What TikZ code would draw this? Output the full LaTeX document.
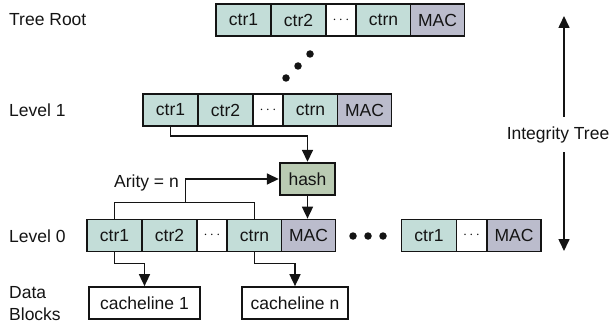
\documentclass[tikz,border=0pt]{standalone}
\usepackage{fontspec}
\setmainfont{Liberation Sans}
\usetikzlibrary{arrows.meta}
\definecolor{ctrfill}{HTML}{C3DDD8}
\definecolor{macfill}{HTML}{BBBCCC}
\definecolor{hashfill}{HTML}{BACBB3}
\definecolor{ink}{HTML}{141414}
\tikzset{
  cell/.style={draw=ink, line width=1.7pt, minimum height=32pt, inner sep=0pt,
    font=\fontsize{17.5}{20}\selectfont, text=ink},
  ctrcell/.style={cell, fill=ctrfill, minimum width=55pt},
  dotcell/.style={cell, fill=white, minimum width=30pt},
  maccell/.style={cell, fill=macfill, minimum width=54pt},
  hashbox/.style={cell, fill=hashfill, line width=2.4pt, minimum width=55pt},
  lineblock/.style={cell, fill=white},
  rowlabel/.style={anchor=west, inner sep=0pt, text=ink, font=\fontsize{17.5}{21}\selectfont, align=left},
  link/.style={draw=ink, line width=1.6pt},
  arr/.style={link, -{Triangle[length=12pt,width=11pt]}},
  bigdot/.style={fill=ink, circle, inner sep=0pt, minimum size=7.5pt}
}
\newcommand{\midots}{{\fontsize{14}{14}\selectfont$\cdots$}}
\begin{document}
\begin{tikzpicture}[x=1pt, y=-1pt]
\useasboundingbox (0,0) rectangle (610,326);

% row labels
\node[rowlabel] (lroot) at (9,20) {Tree Root};
\node[rowlabel] (lone)  at (9,110) {Level 1};
\node[rowlabel] (lzero) at (9,236) {Level 0};
\node[rowlabel, font=\fontsize{17.5}{21.5}\selectfont] (ldata) at (9,303.5) {Data\\Blocks};

% tree root
\node[ctrcell] (r1) at (243.5,20) {ctr1};
\node[ctrcell] (r2) at (298.5,20) {ctr2};
\node[dotcell] (rd) at (341,20) {\midots};
\node[ctrcell] (rn) at (383.5,20) {ctrn};
\node[maccell] (rm) at (437.5,20) {MAC};

% dots between levels
\node[bigdot] (v1) at (310,54) {};
\node[bigdot] (v2) at (298,66) {};
\node[bigdot] (v3) at (286,78) {};

% level 1
\node[ctrcell] (a1) at (170.5,110) {ctr1};
\node[ctrcell] (a2) at (225.5,110) {ctr2};
\node[dotcell] (ad) at (268,110) {\midots};
\node[ctrcell] (an) at (310.5,110) {ctrn};
\node[maccell] (am) at (364.5,110) {MAC};

% hash unit
\node[hashbox] (hash) at (307.5,179) {hash};

% level 0, first block
\node[ctrcell] (b1) at (114.5,235.5) {ctr1};
\node[ctrcell] (b2) at (169.5,235.5) {ctr2};
\node[dotcell] (bd) at (212,235.5) {\midots};
\node[ctrcell] (bn) at (254.5,235.5) {ctrn};
\node[maccell] (bm) at (308.5,235.5) {MAC};

% level 0 horizontal dots
\node[bigdot] (h1) at (353,236) {};
\node[bigdot] (h2) at (368,236) {};
\node[bigdot] (h3) at (383,236) {};

% level 0, last block
\node[ctrcell] (c1) at (429,235.5) {ctr1};
\node[dotcell] (cd) at (471.5,235.5) {\midots};
\node[maccell] (cm) at (514,235.5) {MAC};

% data blocks
\node[lineblock, minimum width=111pt] (cl1) at (144.5,303) {cacheline 1};
\node[lineblock, minimum width=106pt] (cln) at (295,303) {cacheline n};

% level 1 counter feeds the hash
\draw[arr] (a1.south) -- ++(0,9) -| (hash.north);

% arity bracket over the level 0 counters
\draw[link] (b1.north) -- ++(0,-16) -| (bn.north);
\coordinate (brmid) at (185.5,203);
\draw[arr] (brmid) |- (hash.west);
\node[anchor=east, inner sep=0pt, text=ink, font=\fontsize{17.5}{20}\selectfont] (arity) at (179,183) {Arity = n};

% hash output into the MAC
\draw[arr] (hash.south) -- (hash.south |- bm.north);

% counters to data blocks
\draw[arr] (b1.south) -- ++(0,11) -| (cl1.north);
\draw[arr] (bn.south) -- ++(0,11) -| (cln.north);

% integrity tree span
\node[inner sep=0pt, text=ink, font=\fontsize{17.5}{20}\selectfont] (itree) at (558,135) {Integrity Tree};
\coordinate (itop) at (564,16);
\coordinate (ibot) at (564,251);
\draw[arr] (564,117) -- (itop);
\draw[arr] (564,152) -- (ibot);
\end{tikzpicture}
\end{document}
